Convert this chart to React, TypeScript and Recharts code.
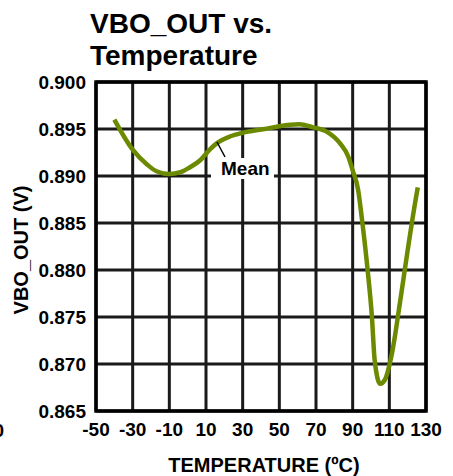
import React from 'react';
import { LineChart, Line, XAxis, YAxis, ReferenceArea, CartesianGrid } from 'recharts';

// values
const temps = [-40, -30, -22, -17, -10, -4, 1, 7, 12, 16, 23, 30, 42, 50, 61, 68, 76, 83, 87.5, 90, 93, 95, 98, 100.5, 102, 105, 107.5, 111.5, 116, 120, 124, 125.5];
const vboOut = [0.8960, 0.8928, 0.8912, 0.8905, 0.8902, 0.8904, 0.8909, 0.8917, 0.8928, 0.8935, 0.8942, 0.8946, 0.8950, 0.8953, 0.8955, 0.8952, 0.8947, 0.8935, 0.8921, 0.8906, 0.8885, 0.8855, 0.8803, 0.8750, 0.8704, 0.8679, 0.8683, 0.8712, 0.8768, 0.8821, 0.8871, 0.8888];

const xTicks = [-50, -30, -10, 10, 30, 50, 70, 90, 110, 130];
const yTicks = [0.865, 0.87, 0.875, 0.88, 0.885, 0.89, 0.895, 0.9];

const data = temps.map((t, i) => ({ t, v: vboOut[i] }));

const font = '"Liberation Sans", Arial, sans-serif';
const W = 453;
const H = 476;

export default function App() {
  const yMin = yTicks[0];
  const yMax = yTicks[yTicks.length - 1];
  const xMin = xTicks[0];
  const xMax = xTicks[xTicks.length - 1];
  return (
    <div style={{ position: 'absolute', left: 0, top: 0, width: W, height: H, background: '#fff', fontFamily: font }}>
      <LineChart width={W} height={H} data={data} margin={{ top: 82, right: 27, bottom: 35, left: 36 }}>
        <CartesianGrid stroke="#1a1a1a" strokeWidth={3} />
        <XAxis
          dataKey="t"
          type="number"
          domain={[xMin, xMax]}
          ticks={xTicks}
          interval={0}
          height={30}
          axisLine={false}
          tickLine={false}
          tickMargin={6}
          tick={{ fill: '#000', fontSize: 19, fontWeight: 700, fontFamily: font }}
        />
        <YAxis
          type="number"
          domain={[yMin, yMax]}
          ticks={yTicks}
          interval={0}
          width={60}
          axisLine={false}
          tickLine={false}
          tickMargin={4}
          tickFormatter={(v: number) => v.toFixed(3)}
          tick={{ fill: '#000', fontSize: 19, fontWeight: 700, fontFamily: font }}
        />
        <ReferenceArea x1={xMin} x2={xMax} y1={yMin} y2={yMax} fill="none" stroke="#000" strokeWidth={3.5} />
        <Line dataKey="v" type="monotone" stroke="#6b8a00" strokeWidth={4.5} dot={false} isAnimationActive={false} />
      </LineChart>
      <svg width={W} height={H} style={{ position: 'absolute', left: 0, top: 0, pointerEvents: 'none' }}>
        <text x={90} y={33} fontSize={28} fontWeight={700} fontFamily={font} fill="#000">VBO_OUT vs.</text>
        <text x={90} y={65} fontSize={28} fontWeight={700} fontFamily={font} fill="#000">Temperature</text>
        <line x1={217} y1={142} x2={225} y2={157} stroke="#000" strokeWidth={1.5} />
        <rect x={211} y={158} width={63} height={21} fill="#fff" />
        <text x={221} y={175} fontSize={19} fontWeight={700} fontFamily={font} fill="#000">Mean</text>
        <text x={264} y={472} textAnchor="middle" fontSize={20} fontWeight={700} fontFamily={font} fill="#000">TEMPERATURE (ºC)</text>
        <text transform="translate(28,250) rotate(-90)" textAnchor="middle" fontSize={20} fontWeight={700} fontFamily={font} fill="#000">VBO_OUT (V)</text>
        <text x={4} y={437} textAnchor="end" fontSize={19} fontWeight={700} fontFamily={font} fill="#000">130</text>
      </svg>
    </div>
  );
}
